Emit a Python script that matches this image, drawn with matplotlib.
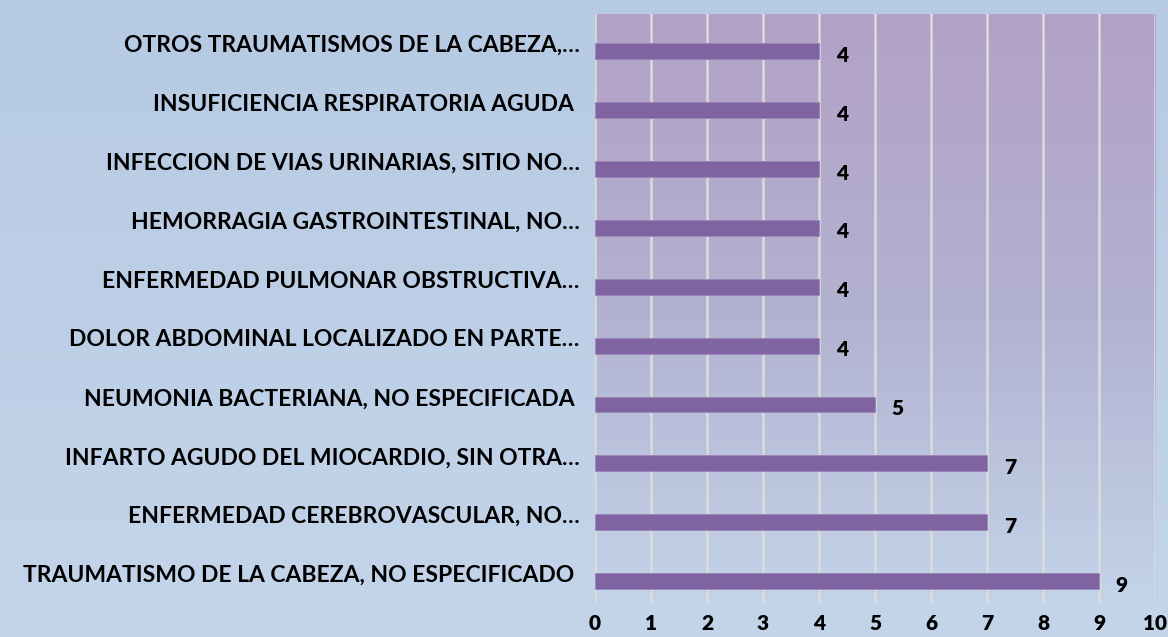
import numpy as np
import matplotlib.pyplot as plt
from matplotlib.colors import LinearSegmentedColormap

# categories from bottom to top
causas = ('TRAUMATISMO DE LA CABEZA, NO ESPECIFICADO ',
          'ENFERMEDAD CEREBROVASCULAR, NO…',
          'INFARTO AGUDO DEL MIOCARDIO, SIN OTRA…',
          'NEUMONIA BACTERIANA, NO ESPECIFICADA ',
          'DOLOR ABDOMINAL LOCALIZADO EN PARTE…',
          'ENFERMEDAD PULMONAR OBSTRUCTIVA…',
          'HEMORRAGIA GASTROINTESTINAL, NO…',
          'INFECCION DE VIAS URINARIAS, SITIO NO…',
          'INSUFICIENCIA RESPIRATORIA AGUDA ',
          'OTROS TRAUMATISMOS DE LA CABEZA,…')
casos = (9, 7, 7, 5, 4, 4, 4, 4, 4, 4)
xticks = (0, 1, 2, 3, 4, 5, 6, 7, 8, 9, 10)

plt.rcParams['font.family'] = ['Lato', 'DejaVu Sans']

fig = plt.figure(figsize=(11.68, 6.37), dpi=100)

# figure background gradient
bg = fig.add_axes([0, 0, 1, 1], zorder=-10)
bg_cmap = LinearSegmentedColormap.from_list('bg', ['#b6cae3', '#c4d5ea'])
bg.imshow(np.linspace(0, 1, 256).reshape(-1, 1), cmap=bg_cmap, aspect='auto',
          extent=[0, 1, 0, 1], origin='upper')
bg.axis('off')

ax = fig.add_axes([0.5094, 0.0534, 0.4795, 0.9246])
pa_cmap = LinearSegmentedColormap.from_list('pa', ['#b3a1c7', '#b2b1d0', '#c3d4e9'])
ypos = np.arange(len(causas))
ax.imshow(np.linspace(0, 1, 256).reshape(-1, 1), cmap=pa_cmap, aspect='auto',
          extent=[0, 10, -0.5, 9.5], origin='upper', zorder=0)

ax.barh(ypos - 0.13, casos, height=0.27, color='#8064a2', edgecolor='#9b86b8',
        linewidth=0.6, zorder=3)
for y, v in zip(ypos, casos):
    ax.text(v + 0.3, y - 0.2, str(v), ha='left', va='center',
            fontsize=15, fontweight='heavy', color='black')

ax.set_xlim(0, 10)
ax.set_ylim(-0.5, 9.5)
ax.set_xticks(xticks)
ax.set_xticklabels([str(t) for t in xticks], fontsize=15, fontweight='heavy')
ax.set_yticks(ypos)
ax.set_yticklabels(causas, fontsize=16.5, fontweight='bold')
ax.tick_params(axis='both', length=0)
ax.tick_params(axis='x', pad=8)
ax.tick_params(axis='y', pad=11)
ax.grid(True, axis='x', color='#dcdcdc', linewidth=1.8, zorder=1)
ax.set_axisbelow(True)
for s in ax.spines.values():
    s.set_visible(False)

plt.savefig('out.png', dpi=100)
